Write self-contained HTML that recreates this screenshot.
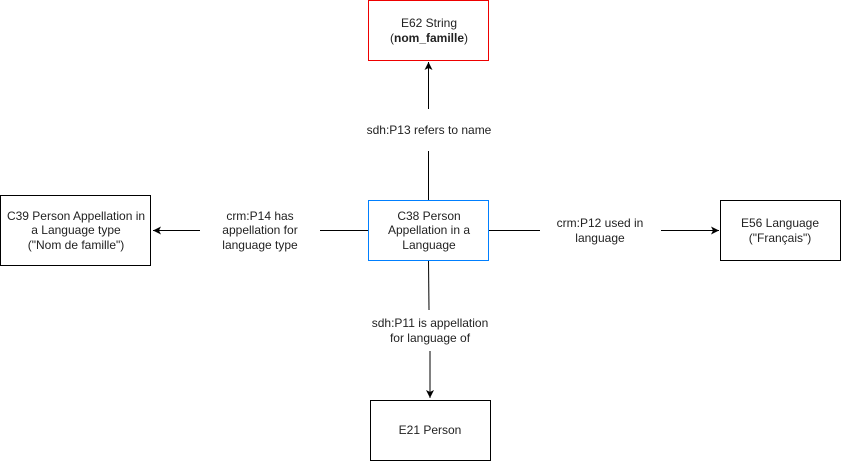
<!DOCTYPE html>
<html><head><meta charset="utf-8"><style>
html,body{margin:0;padding:0;background:#fff;}
svg{display:block;font-family:"Liberation Sans",Arial,sans-serif;font-size:12px;}
</style></head><body>
<svg width="842" height="462" viewBox="0 0 842 462" xmlns="http://www.w3.org/2000/svg">
<defs>
<marker id="a" markerWidth="10" markerHeight="10" refX="8" refY="4" orient="auto" markerUnits="userSpaceOnUse">
<path d="M0,0 L8,4 L0,8 L2,4 Z" fill="#000"/>
</marker>
</defs>
<g stroke="#000" stroke-width="1" fill="none">
<line x1="428.5" y1="200" x2="428.5" y2="151"/>
<line x1="428.5" y1="109" x2="428.5" y2="62" marker-end="url(#a)"/>
<line x1="368" y1="230.5" x2="320" y2="230.5"/>
<line x1="200" y1="230.5" x2="153" y2="230.5" marker-end="url(#a)"/>
<line x1="489" y1="230.5" x2="540" y2="230.5"/>
<line x1="661" y1="230.5" x2="719" y2="230.5" marker-end="url(#a)"/>
<line x1="428.5" y1="260" x2="429" y2="310"/>
<line x1="430" y1="351" x2="430" y2="398" marker-end="url(#a)"/>
</g>
<rect x="368.5" y="0.5" width="120" height="60" fill="#fff" stroke="#e00" stroke-width="1"/>
<rect x="368.5" y="200.5" width="120" height="60" fill="#fff" stroke="#007fff" stroke-width="1"/>
<rect x="0.5" y="195.5" width="150" height="70" fill="#fff" stroke="#000"/>
<rect x="720.5" y="200.5" width="120" height="60" fill="#fff" stroke="#000"/>
<rect x="370.5" y="400.5" width="120" height="60" fill="#fff" stroke="#000"/>
<g fill="#222" text-anchor="middle">
<text x="429" y="27">E62 String</text>
<text x="429" y="42">(<tspan font-weight="bold">nom_famille</tspan>)</text>
<text x="429" y="220">C38 Person</text>
<text x="429" y="234">Appellation in a</text>
<text x="429" y="249">Language</text>
<text x="76" y="220">C39 Person Appellation in</text>
<text x="76" y="234">a Language type</text>
<text x="76" y="249">("Nom de famille")</text>
<text x="780" y="227">E56 Language</text>
<text x="780" y="242">("Français")</text>
<text x="430" y="434">E21 Person</text>
<text x="429" y="134">sdh:P13 refers to name</text>
<text x="260" y="220">crm:P14 has</text>
<text x="260" y="234">appellation for</text>
<text x="260" y="249">language type</text>
<text x="600" y="227">crm:P12 used in</text>
<text x="600" y="242">language</text>
<text x="430" y="327">sdh:P11 is appellation</text>
<text x="430" y="342">for language of</text>
</g>
</svg>
</body></html>
